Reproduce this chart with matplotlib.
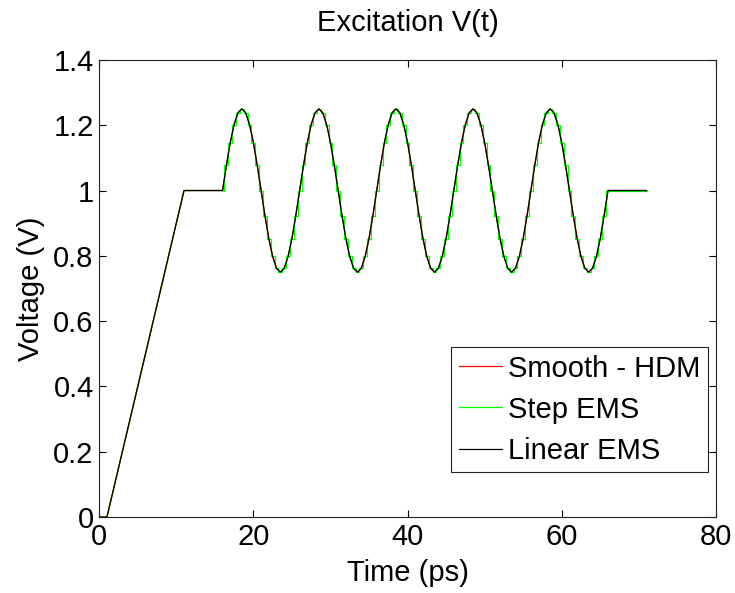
import numpy as np
import matplotlib
matplotlib.use("Agg")
import matplotlib.pyplot as plt
from matplotlib.ticker import FormatStrFormatter

# ramp + hold before the oscillation, and hold after it (ps, V)
ramp_t = [0, 1, 11, 16]
ramp_v = [0.0, 0.0, 1.0, 1.0]
tail_t = [66, 71]
tail_v = [1.0, 1.0]

# one period (10 ps) of the oscillation, read every 0.5 ps
cycle_v = [1.000, 1.077, 1.147, 1.202, 1.238, 1.250, 1.238, 1.202, 1.147, 1.077,
           1.000, 0.923, 0.853, 0.798, 0.762, 0.750, 0.762, 0.798, 0.853, 0.923]
n_cycles = 5
osc_start = 16
dt = 0.5

osc_t = osc_start + dt * np.arange(len(cycle_v) * n_cycles + 1)
osc_v = np.append(np.tile(cycle_v, n_cycles), cycle_v[0])

t_all = np.concatenate([ramp_t, osc_t, tail_t])
v_all = np.concatenate([ramp_v, osc_v, tail_v])

x_ticks = [0, 20, 40, 60, 80]
y_ticks = [0, 0.2, 0.4, 0.6, 0.8, 1.0, 1.2, 1.4]

plt.rcParams["font.family"] = ["Liberation Sans", "DejaVu Sans"]

fig = plt.figure(figsize=(7.35, 5.93), dpi=100)
ax = fig.add_axes([0.135, 0.128, 0.839, 0.771])

lw = 0.9
ax.plot(t_all, v_all, color="red", lw=lw, label="Smooth - HDM")
# step EMS: steps only over the oscillation
ax.plot(osc_t, osc_v, color="#00ff00", lw=lw, drawstyle="steps-mid", label="Step EMS")
ax.plot(ramp_t, ramp_v, color="#00ff00", lw=lw)
ax.plot(tail_t, tail_v, color="#00ff00", lw=lw)
ax.plot(t_all, v_all, color="black", lw=lw, label="Linear EMS")

ax.set_xlim(0, 80)
ax.set_ylim(0, 1.4)
ax.set_xticks(x_ticks)
ax.set_yticks(y_ticks)
ax.yaxis.set_major_formatter(FormatStrFormatter("%g"))
ax.tick_params(direction="in", length=5, width=0.8, top=True, right=True,
               labelsize=21, pad=4)
for s in ax.spines.values():
    s.set_linewidth(0.8)
    s.set_color("#222222")

ax.set_title("Excitation V(t)", fontsize=21, pad=21)
ax.set_xlabel("Time (ps)", fontsize=21, labelpad=6)
ax.set_ylabel("Voltage (V)", fontsize=21, labelpad=6)

leg = ax.legend(loc="lower right", bbox_to_anchor=(0.987, 0.0985), borderaxespad=0,
                fontsize=21, fancybox=False, framealpha=1, edgecolor="#222222",
                handlelength=1.5, handletextpad=0.2, labelspacing=0.45,
                borderpad=0.25)
leg.get_frame().set_linewidth(0.8)

fig.savefig("out.png", dpi=100)
